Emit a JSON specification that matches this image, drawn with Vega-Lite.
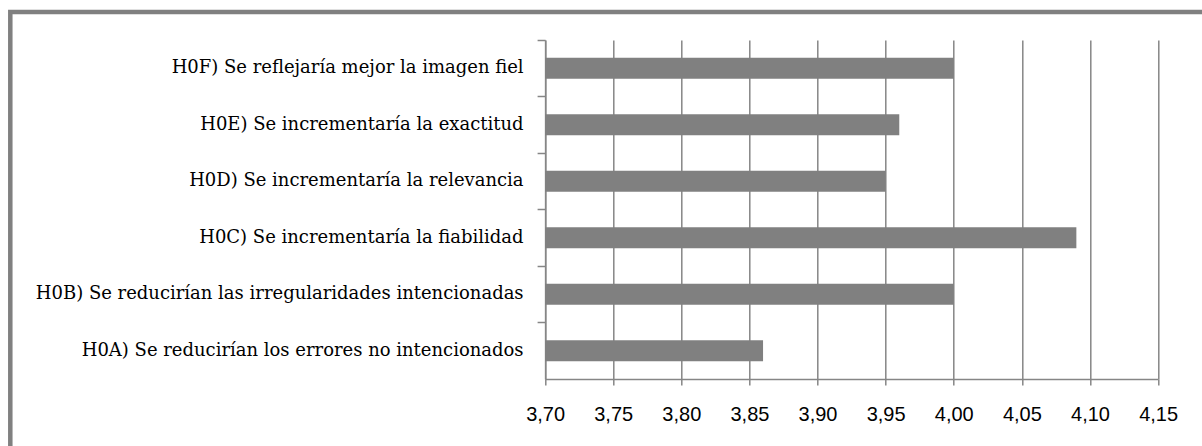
{
  "$schema": "https://vega.github.io/schema/vega-lite/v6.json",
  "autosize": {"type": "none"},
  "padding": {"left": 10.3, "top": 12, "right": 0, "bottom": 0},
  "width": 1196,
  "height": 440,
  "background": "white",
  "config": {
    "view": {"stroke": "#808080", "strokeWidth": 4.5, "fill": "white"}
  },
  "data": {
    "values": [
      {"hipotesis": "H0F) Se reflejaría mejor la imagen fiel", "media": 4.00},
      {"hipotesis": "H0E) Se incrementaría la exactitud", "media": 3.96},
      {"hipotesis": "H0D) Se incrementaría la relevancia", "media": 3.95},
      {"hipotesis": "H0C) Se incrementaría la fiabilidad", "media": 4.09},
      {"hipotesis": "H0B) Se reducirían las irregularidades intencionadas", "media": 4.00},
      {"hipotesis": "H0A) Se reducirían los errores no intencionados", "media": 3.86}
    ]
  },
  "encoding": {
    "y": {
      "field": "hipotesis",
      "type": "nominal",
      "sort": null,
      "scale": {"range": [28, 367], "paddingInner": 0, "paddingOuter": 0},
      "axis": {
        "title": null,
        "offset": -534.8,
        "bandPosition": 0,
        "grid": false,
        "domainColor": "#868686",
        "domainWidth": 1.5,
        "tickColor": "#868686",
        "tickWidth": 1.5,
        "tickSize": 8,
        "labelPadding": 14,
        "labelFont": "DejaVu Serif",
        "labelFontSize": 18,
        "labelColor": "black",
        "labelLimit": 600,
        "labelBaseline": "middle"
      }
    },
    "x2": {"datum": 3.7}
  },
  "layer": [
    {
      "mark": {"type": "bar", "color": "#808080", "size": 21, "opacity": 0},
      "encoding": {
        "x": {
          "field": "media",
          "type": "quantitative",
          "scale": {"domain": [3.7, 4.15], "range": [534.8, 1147.8], "zero": false, "nice": false},
          "axis": {
            "orient": "top",
            "title": null,
            "values": [3.7, 3.75, 3.8, 3.85, 3.9, 3.95, 4.0, 4.05, 4.1, 4.15],
            "grid": true,
            "gridColor": "#868686",
            "gridWidth": 1.5,
            "domain": false,
            "ticks": false,
            "labels": false
          }
        }
      }
    },
    {
      "mark": {"type": "bar", "color": "#808080", "size": 21},
      "encoding": {
        "x": {
          "field": "media",
          "type": "quantitative",
          "axis": {
            "orient": "bottom",
            "title": null,
            "offset": -73,
            "values": [3.7, 3.75, 3.8, 3.85, 3.9, 3.95, 4.0, 4.05, 4.1, 4.15],
            "labelExpr": "replace(format(datum.value, '.2f'), '.', ',')",
            "labelFlush": false,
            "grid": false,
            "domainColor": "#868686",
            "domainWidth": 1.5,
            "tickColor": "#868686",
            "tickWidth": 1.5,
            "tickSize": 6,
            "labelPadding": 20,
            "labelFont": "Liberation Sans",
            "labelFontSize": 20,
            "labelColor": "black"
          }
        }
      }
    }
  ],
  "resolve": {"axis": {"x": "independent"}}
}
